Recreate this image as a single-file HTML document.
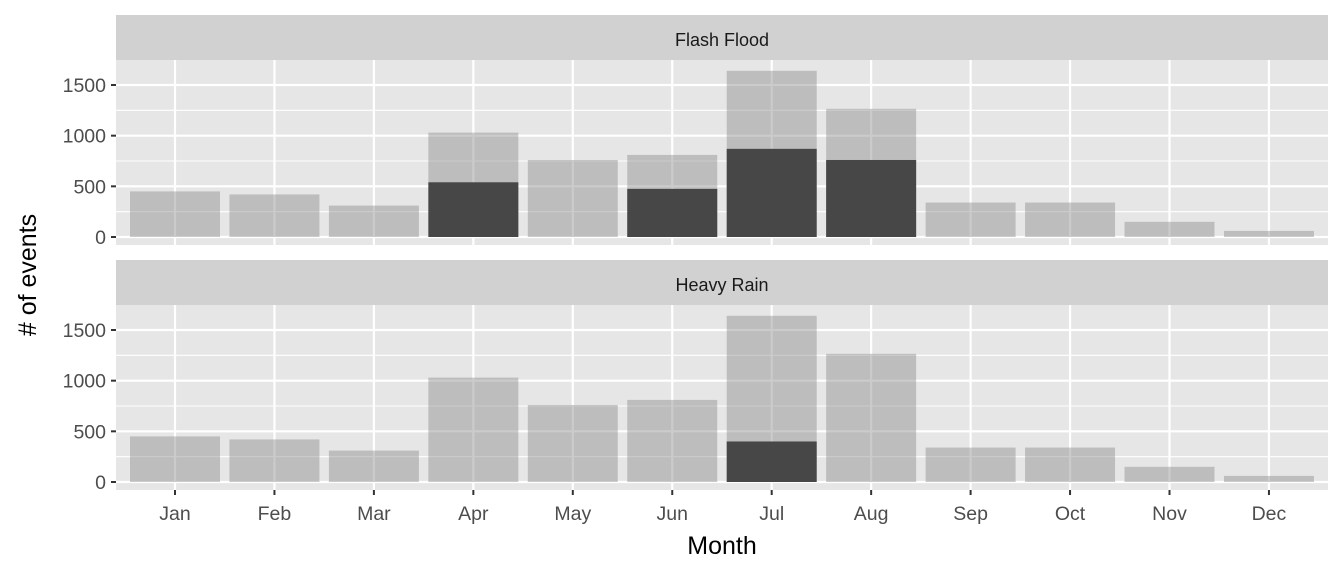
<!DOCTYPE html>
<html><head><meta charset="utf-8"><style>body{margin:0;background:#fff}svg{display:block;font-family:"Liberation Sans",Arial,sans-serif}</style></head>
<body>
<svg id="c" width="1344" height="576"></svg>
<script>
const months=["Jan","Feb","Mar","Apr","May","Jun","Jul","Aug","Sep","Oct","Nov","Dec"];
const totals=[450,420,310,1030,760,810,1640,1265,340,340,150,60];
const flashFlood=[0,0,0,540,0,475,870,760,0,0,0,0];
const heavyRain=[0,0,0,0,0,0,400,0,0,0,0,0];
const yTicks=[0,500,1000,1500];
const yMinor=[250,750,1250,1750];
const panels=[{title:"Flash Flood",vals:flashFlood,top:60,bot:245,strip:15,zero:237},
              {title:"Heavy Rain",vals:heavyRain,top:305,bot:490,strip:260,zero:482}];
const svg=document.getElementById('c');const NS="http://www.w3.org/2000/svg";
function mk(t,a,p){const e=document.createElementNS(NS,t);for(const k in a)e.setAttribute(k,a[k]);(p||svg).appendChild(e);return e;}
const X0=116,X1=1328;
const xs=i=>175+i*99.45;const bw=90;
const k=152/1500;
panels.forEach((p,pi)=>{
  const y=v=>p.zero-v*k;
  const g=mk('g',{});
  
  
  mk('rect',{x:X0,y:p.top,width:X1-X0,height:p.bot-p.top,fill:'#e6e6e6'},g);
  const s=mk('rect',{x:X0,y:p.strip,width:X1-X0,height:p.top-p.strip,fill:'#d1d1d1'},g);
  
  
  const st=mk('text',{x:(X0+X1)/2,y:p.strip+31,'text-anchor':'middle','font-size':18,fill:'#1a1a1a'},g);st.textContent=p.title;
  
  
  yMinor.forEach(v=>{if(y(v)>p.top)mk('line',{x1:X0,x2:X1,y1:y(v),y2:y(v),stroke:'#fff','stroke-width':1.1},g);});
  yTicks.forEach(v=>{mk('line',{x1:X0,x2:X1,y1:y(v),y2:y(v),stroke:'#fff','stroke-width':2.2},g);
    mk('line',{x1:X0-5,x2:X0,y1:y(v),y2:y(v),stroke:'#333','stroke-width':2},g);
    const t=mk('text',{x:X0-10,y:y(v)+7,'text-anchor':'end','font-size':19.5,fill:'#4d4d4d'},g);t.textContent=v;
    
    });
  months.forEach((m,i)=>mk('line',{x1:xs(i),x2:xs(i),y1:p.top,y2:p.bot,stroke:'#fff','stroke-width':2.2},g));
  totals.forEach((v,i)=>{const r=mk('rect',{x:xs(i)-bw/2,y:y(v),width:bw,height:v*k,fill:'rgba(140,140,140,0.45)'},g);
    
    });
  p.vals.forEach((v,i)=>{if(v<=0)return;const r=mk('rect',{x:xs(i)-bw/2,y:y(v),width:bw,height:v*k,fill:'#474747'},g);
    
    });
});
months.forEach((m,i)=>{mk('line',{x1:xs(i),x2:xs(i),y1:490,y2:495,stroke:'#333','stroke-width':2});
  const t=mk('text',{x:xs(i),y:520,'text-anchor':'middle','font-size':19.5,fill:'#4d4d4d'});t.textContent=m;
  
  });
const xt=mk('text',{x:722,y:554,'text-anchor':'middle','font-size':25,fill:'#000'});xt.textContent='Month';


const yt=mk('text',{x:0,y:0,'text-anchor':'middle','font-size':25,fill:'#000',transform:'translate(36,275) rotate(-90)'});yt.textContent='# of events';


</script>
</body></html>
